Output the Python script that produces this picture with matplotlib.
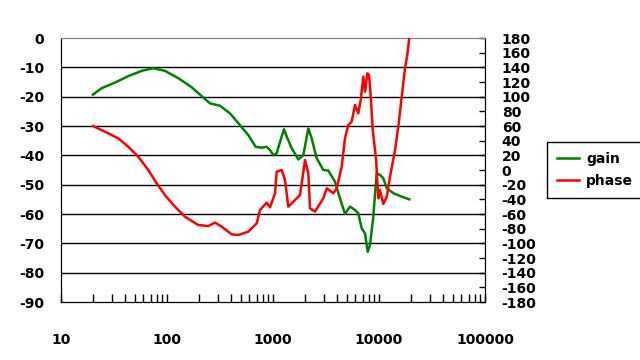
import matplotlib
matplotlib.use("Agg")
import matplotlib.pyplot as plt
from matplotlib.ticker import LogLocator, NullFormatter, FixedLocator

# gain series
gain_freq = [20, 24.2, 32.3, 43.1, 57.7, 74.3, 95.7, 128, 171, 212, 255, 316, 393, 488,
             585, 687, 782, 872, 937, 1008, 1084, 1165, 1271, 1347, 1503, 1734, 1933,
             2154, 2317, 2583, 2985, 3327, 3847, 4133, 4779, 5326, 5936, 6378, 6871,
             7382, 7825, 8222, 8833, 9509, 10217, 10980, 11830, 13650, 16380, 19300]
gain_db = [-19.3, -17.1, -15.2, -13.0, -11.2, -10.3, -11.2, -13.7, -16.8, -19.8, -22.3,
           -23.1, -25.7, -29.7, -33.1, -37.1, -37.4, -37.1, -38.2, -39.9, -39.3, -35.4,
           -31.1, -33.6, -37.6, -41.4, -39.9, -30.8, -34.2, -41.0, -45.0, -45.2, -49.0,
           -52.9, -60.0, -57.5, -58.6, -59.8, -64.9, -66.6, -72.9, -70.6, -60.9, -46.1,
           -46.7, -47.8, -51.2, -52.9, -54.1, -55.0]

# phase series
phase_freq = [20, 26, 34.7, 43.1, 53.6, 66.6, 80, 95.7, 119, 148, 197, 245, 284, 328,
              408, 471, 585, 702, 754, 872, 937, 1045, 1084, 1208, 1298, 1394, 1613,
              1799, 2005, 2154, 2234, 2489, 2985, 3214, 3710, 3993, 4450, 4779, 5131,
              5522, 5936, 6378, 6720, 7115, 7382, 7769, 8056, 8359, 8730, 9380, 9850,
              10217, 10980, 11830, 12710, 14170, 15220, 16380, 17590, 18490, 19300]
phase_deg = [60.0, 52.2, 43.2, 31.8, 18.1, 0.0, -18.2, -34.3, -50.0, -63.8, -75.0,
             -76.4, -71.8, -77.3, -87.7, -88.6, -84.1, -72.7, -54.5, -44.6, -50.9,
             -31.8, -2.3, 0.0, -13.6, -50.0, -40.9, -34.1, 13.6, -4.5, -52.2, -56.8,
             -38.6, -25.0, -31.8, -25.0, 4.5, 43.2, 61.4, 65.9, 88.6, 77.3, 95.5, 127.3,
             106.8, 131.8, 129.5, 100.0, 54.5, 15.0, -38.6, -27.3, -46.4, -36.4, -9.0,
             27.3, 59.1, 100.0, 138.6, 156.8, 179.6]

x_ticks = [10, 100, 1000, 10000, 100000]
x_labels = ["10", "100", "1000", "10000", "100000"]
gain_ticks = list(range(-90, 1, 10))
phase_ticks = list(range(-180, 181, 20))

plt.rcParams['font.family'] = ['DejaVu Sans']
plt.rcParams['font.weight'] = 'bold'

fig = plt.figure(figsize=(6.4, 3.6), dpi=100)
ax = fig.add_axes([61/640, 1-302/360, (485-61)/640, (302-38)/360])
ax2 = ax.twinx()

ax.set_xscale('log')
ax.set_xlim(10, 100000)
ax.set_ylim(-90, 0)
ax.set_yticks(gain_ticks)
ax.set_yticklabels([str(v) for v in gain_ticks], fontsize=10, fontweight='bold')
ax.set_xticks(x_ticks)
ax.set_xticklabels(x_labels, fontsize=10, fontweight='bold')
ax.xaxis.set_minor_locator(LogLocator(base=10, subs=range(2, 10), numticks=20))
ax.xaxis.set_minor_formatter(NullFormatter())
ax.tick_params(axis='x', which='both', direction='in', length=6, width=1, pad=22)
ax.tick_params(axis='y', length=0, pad=12)

for v in gain_ticks[1:-1]:
    ax.axhline(v, color='black', lw=1.0, zorder=1)

for side in ['left', 'bottom', 'right']:
    ax.spines[side].set_color('black')
ax.spines['top'].set_color('#808080')

l1, = ax.plot(gain_freq, gain_db, color='#008000', lw=1.8, label='gain', zorder=3)

ax2.set_ylim(-180, 180)
ax2.set_yticks(phase_ticks)
ax2.set_yticklabels([str(v) for v in phase_ticks], fontsize=10, fontweight='bold')
ax2.tick_params(axis='y', direction='in', length=4, width=1, pad=12)
ax2.spines['top'].set_color('#808080')
l2, = ax2.plot(phase_freq, phase_deg, color='#ff0000', lw=1.8, label='phase', zorder=3)

leg = fig.legend([l1, l2], ['gain', 'phase'], loc='upper left',
                 bbox_to_anchor=(547/640, 1-142/360), borderaxespad=0, frameon=True,
                 fancybox=False, edgecolor='black', framealpha=1, handlelength=1.6,
                 handletextpad=0.5, prop={'size': 10, 'weight': 'bold'},
                 borderpad=0.7, labelspacing=0.6)
leg.get_frame().set_linewidth(1.0)

fig.savefig('out.png', dpi=100)
